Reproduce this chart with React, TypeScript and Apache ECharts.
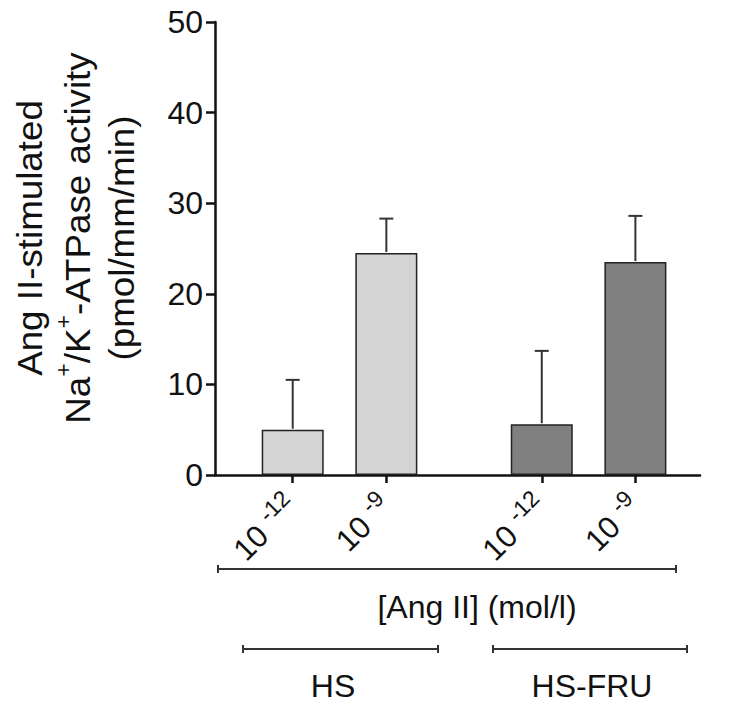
import React, { useEffect, useRef } from 'react';
import * as echarts from 'echarts';

// Data
const positions = [1, 2, 3.66, 4.66];
const baseLabel = '10';
const exponents = ['-12', '-9', '-12', '-9'];
const hsMeans = [5.0, 24.5];
const hsErrors = [5.5, 3.8];
const fruMeans = [5.6, 23.5];
const fruErrors = [8.1, 5.1];
const yMin = 0;
const yMax = 50;
const yInterval = 10;
const groupNames = ['HS', 'HS-FRU'];
const xAxisTitle = '[Ang II] (mol/l)';

const FONT = '"Liberation Sans", Arial, sans-serif';
const INK = '#111';

export default function App() {
  const ref = useRef<HTMLDivElement>(null);
  useEffect(() => {
    if (!ref.current) return;
    const chart = echarts.init(ref.current, undefined, { renderer: 'svg' });

    const hsData = hsMeans.map((m, i) => [positions[i], m]);
    const fruData = fruMeans.map((m, i) => [positions[i + 2], m]);
    const errData = [
      ...hsMeans.map((m, i) => [positions[i], m, hsErrors[i]]),
      ...fruMeans.map((m, i) => [positions[i + 2], m, fruErrors[i]]),
    ];

    const bracket = (x1: number, x2: number, y: number) => [
      { type: 'line', shape: { x1, y1: y, x2, y2: y }, style: { stroke: '#333', lineWidth: 2 } },
      { type: 'line', shape: { x1, y1: y - 4, x2: x1, y2: y + 4 }, style: { stroke: '#333', lineWidth: 2 } },
      { type: 'line', shape: { x1: x2, y1: y - 4, x2, y2: y + 4 }, style: { stroke: '#333', lineWidth: 2 } },
    ];

    const titleFont = 35;
    const titleScale = 1.05;
    const supRich = {
      m: { fontSize: titleFont, fontFamily: FONT, color: INK, lineHeight: 50 },
      s: { fontSize: 22, fontFamily: FONT, color: INK, lineHeight: 22, verticalAlign: 'top' },
    };
    const titleLine = (x: number, text: string, rich?: any) => ({
      type: 'text',
      x,
      y: 238,
      rotation: Math.PI / 2,
      scaleX: titleScale,
      style: {
        text,
        rich,
        fontSize: titleFont,
        fontFamily: FONT,
        fill: INK,
        align: 'center',
        verticalAlign: 'middle',
      },
    });
    const label = (x: number, y: number, text: string) => ({
      type: 'text',
      x,
      y,
      style: { text, fontSize: 32, fontFamily: FONT, fill: INK, align: 'center', verticalAlign: 'middle' },
    });

    chart.setOption({
      animation: false,
      grid: { left: 215, right: 29, top: 22, height: 453 },
      xAxis: {
        type: 'value',
        min: 0.17,
        max: 5.35,
        splitLine: { show: false },
        axisLine: { lineStyle: { color: INK, width: 2.5 } },
        axisTick: {
          show: true,
          customValues: positions,
          length: 8,
          lineStyle: { color: INK, width: 2.5 },
        },
        axisLabel: {
          customValues: positions,
          rotate: 45,
          margin: 26,
          formatter: (v: number) => {
            const i = positions.findIndex((p) => Math.abs(p - v) < 1e-6);
            return `{b|${baseLabel} }{s|${i >= 0 ? exponents[i] : ''}}`;
          },
          rich: {
            b: { fontSize: 31, fontFamily: FONT, color: INK, lineHeight: 42 },
            s: { fontSize: 23, fontFamily: FONT, color: INK, lineHeight: 23, verticalAlign: 'top' },
          },
        },
      },
      yAxis: {
        type: 'value',
        min: yMin,
        max: yMax,
        interval: yInterval,
        splitLine: { show: false },
        axisLine: { show: true, lineStyle: { color: INK, width: 2.5 } },
        axisTick: { show: true, length: 9, lineStyle: { color: INK, width: 2.5 } },
        axisLabel: { fontSize: 32, fontFamily: FONT, color: INK, margin: 12 },
      },
      series: [
        {
          type: 'bar',
          name: groupNames[0],
          data: hsData,
          barWidth: 62,
          barGap: '-100%',
          itemStyle: { color: '#d4d4d4', borderColor: '#222', borderWidth: 1.5 },
        },
        {
          type: 'bar',
          name: groupNames[1],
          data: fruData,
          barWidth: 62,
          barGap: '-100%',
          itemStyle: { color: '#808080', borderColor: '#222', borderWidth: 1.5 },
        },
        {
          type: 'custom',
          data: errData,
          encode: { x: 0, y: [1, 2] },
          z: 10,
          renderItem: (params: any, api: any) => {
            const x = api.value(0);
            const m = api.value(1);
            const e = api.value(2);
            const b = api.coord([x, m]);
            const t = api.coord([x, m + e]);
            const st = { stroke: '#333', lineWidth: 2 };
            return {
              type: 'group',
              children: [
                { type: 'line', shape: { x1: b[0], y1: b[1] - 1, x2: t[0], y2: t[1] }, style: st },
                { type: 'line', shape: { x1: t[0] - 7, y1: t[1], x2: t[0] + 7, y2: t[1] }, style: st },
              ],
            };
          },
        },
      ],
      graphic: [
        titleLine(30, 'Ang II-stimulated'),
        titleLine(78, '{m|Na}{s|+}{m|/K}{s|+}{m|-ATPase activity}', supRich),
        titleLine(122, '(pmol/mm/min)'),
        ...bracket(218, 676, 569),
        label(477, 607, xAxisTitle),
        ...bracket(243, 438, 649),
        ...bracket(493, 687, 649),
        label(333, 686, groupNames[0]),
        label(592, 686, groupNames[1]),
      ],
    });
    return () => chart.dispose();
  }, []);
  return (
    <div
      ref={ref}
      style={{ position: 'fixed', left: 0, top: 0, width: 729, height: 710, background: '#fff' }}
    />
  );
}
